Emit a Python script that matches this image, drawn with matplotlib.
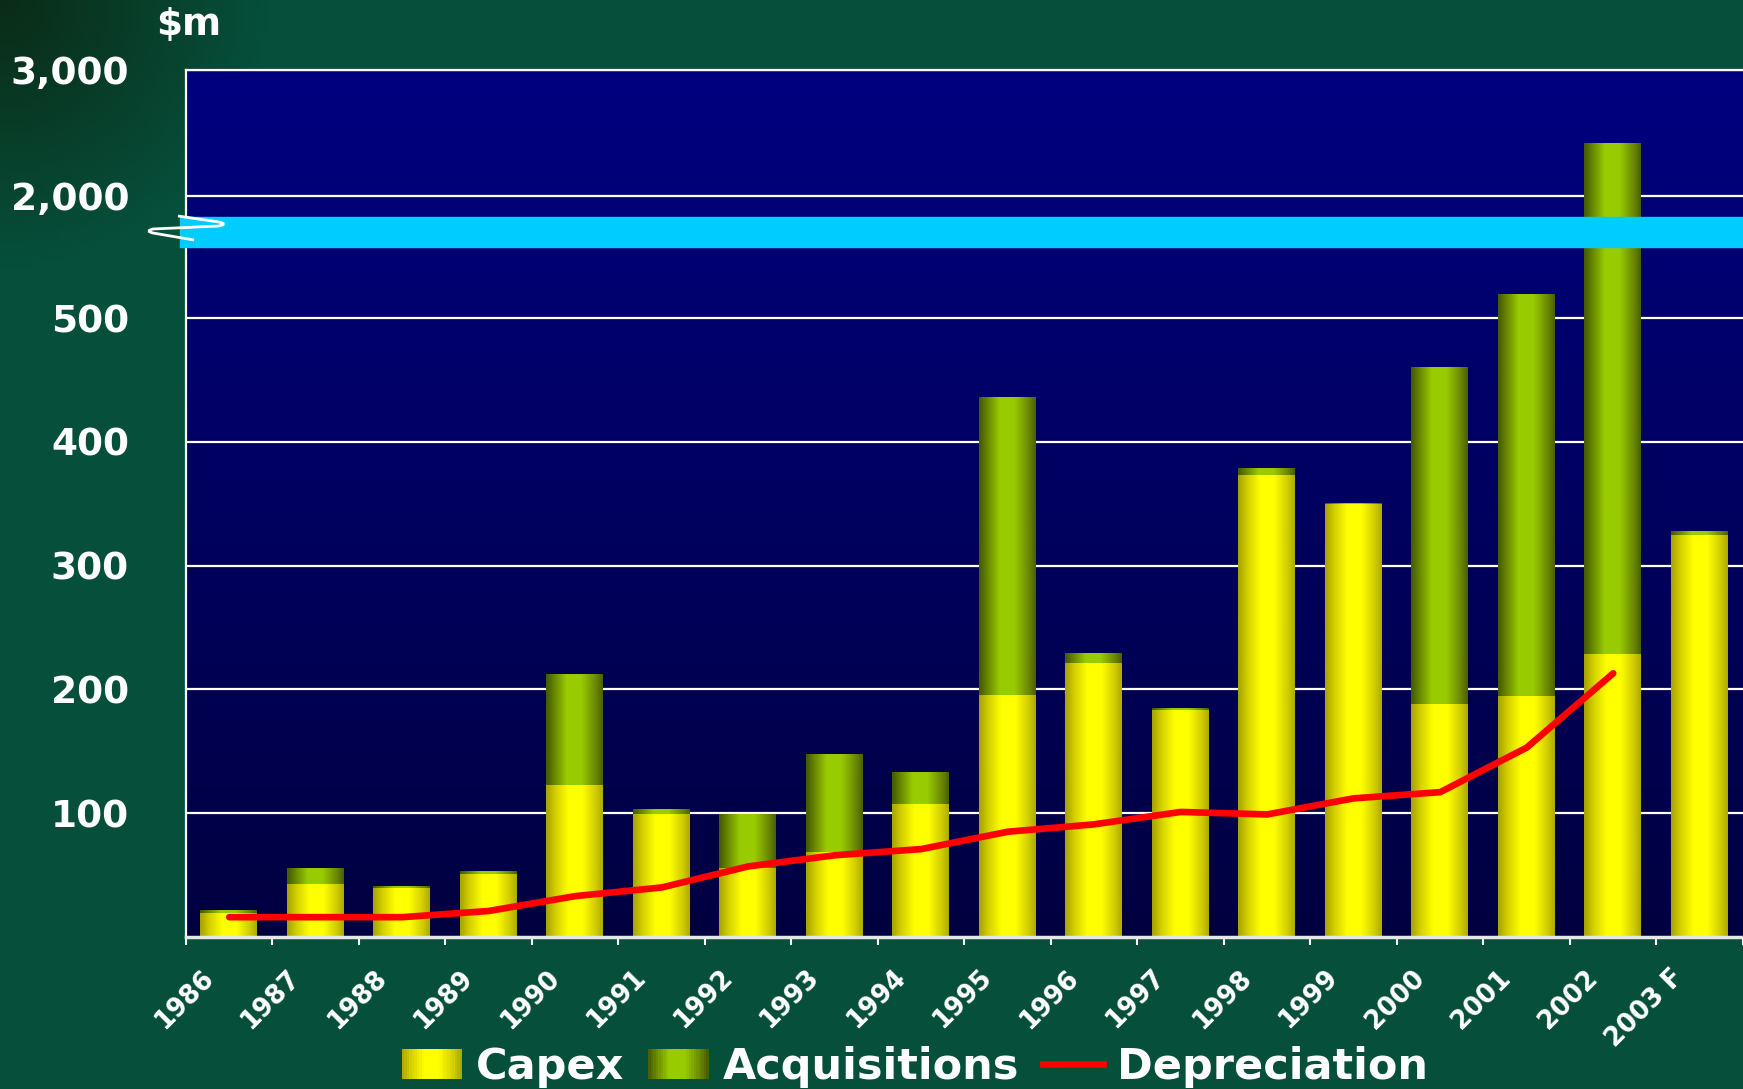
import numpy as np
import matplotlib
matplotlib.use('Agg')
import matplotlib.pyplot as plt
import matplotlib.transforms as mtransforms
from matplotlib.colors import LinearSegmentedColormap
from matplotlib.patches import Patch, PathPatch, Rectangle
from matplotlib.lines import Line2D
from matplotlib.path import Path
from matplotlib.legend_handler import HandlerBase

plt.rcParams['font.family'] = 'DejaVu Sans'
plt.rcParams['font.weight'] = 'bold'

# data ($m)
years = ['1986', '1987', '1988', '1989', '1990', '1991', '1992', '1993', '1994',
         '1995', '1996', '1997', '1998', '1999', '2000', '2001', '2002', '2003 F']
capex = [20, 43, 40, 51, 123, 100, 56, 69, 108, 196, 222, 184, 374, 350, 189, 195, 229, 325]
acquisitions = [2, 13, 2, 3, 90, 4, 44, 79, 26, 241, 8, 1, 5, 1, 272, 325, 2196, 3]
depreciation = [16, 16, 16, 21, 33, 40, 57, 66, 71, 85, 91, 101, 99, 112, 117, 153, 213]
ytick_vals = [100, 200, 300, 400, 500, 2000, 3000]

# broken y axis: 0-557 linear, squeezed gap, then 1831-3000 compressed
LO, HI, GAP, R = 557.5, 1831.0, 24.2, 0.1015


def fwd(y):
    y = np.asarray(y, dtype=float)
    return np.where(y <= LO, y,
                    np.where(y >= HI, LO + GAP + (y - HI) * R,
                             LO + (y - LO) * GAP / (HI - LO)))


def inv(u):
    u = np.asarray(u, dtype=float)
    return np.where(u <= LO, u,
                    np.where(u >= LO + GAP, HI + (u - LO - GAP) / R,
                             LO + (u - LO) * (HI - LO) / GAP))


yellow = LinearSegmentedColormap.from_list('yel', [
    (0.0, '#a9a500'), (0.15, '#d4d000'), (0.38, '#ffff00'),
    (0.62, '#ffff00'), (0.85, '#d2ce00'), (1.0, '#a8a400')])
green = LinearSegmentedColormap.from_list('grn', [
    (0.0, '#465c00'), (0.15, '#6c8c00'), (0.35, '#99cc00'),
    (0.6, '#99cc00'), (0.85, '#6c8a00'), (1.0, '#465a00')])

fig = plt.figure(figsize=(17.43, 10.89), dpi=100)
fig.patch.set_facecolor('#06503c')

# figure background with darker top-left corner
bg = fig.add_axes([0, 0, 1, 1], zorder=-5)
bg.axis('off')
yy, xx = np.mgrid[0:1:200j, 0:1.6:320j]
dist = np.sqrt(xx ** 2 + yy ** 2)
shade = np.clip(dist / 0.25, 0, 1)
c0 = np.array([0.04, 0.17, 0.09])
c1 = np.array([0.024, 0.314, 0.235])
bgimg = c0 + (c1 - c0) * shade[..., None]
bg.imshow(bgimg, extent=(0, 1, 0, 1), aspect='auto', origin='upper')

ax = fig.add_axes([0.1067, 0.1396, 0.8933, 0.7961])
ax.set_yscale('function', functions=(fwd, inv))

# plot area gradient
navy = LinearSegmentedColormap.from_list('navy', ['#000040', '#000080'])
ax.imshow(np.linspace(0, 1, 256)[::-1, None], extent=(0, 1, 0, 1), transform=ax.transAxes,
          cmap=navy, aspect='auto', zorder=0)

x = np.arange(len(years))
bars_c = ax.bar(x, capex, width=0.67, facecolor='none', linewidth=0, zorder=2)
bars_a = ax.bar(x, acquisitions, bottom=capex, width=0.67, facecolor='none', linewidth=0, zorder=2)

# cylinder shading: green clipped to whole stack, yellow on top clipped to capex part
grad = np.linspace(0, 1, 64)[None, :]
for b in bars_a:
    full = Rectangle((b.get_x(), 0), b.get_width(), b.get_y() + b.get_height(),
                     transform=ax.transData, facecolor='none', linewidth=0)
    im = ax.imshow(grad, extent=(b.get_x(), b.get_x() + b.get_width(), 0, 1),
                   transform=ax.get_xaxis_transform(), cmap=green, aspect='auto',
                   interpolation='bilinear', zorder=2.1)
    im.set_clip_path(full)
for b in bars_c:
    im = ax.imshow(grad, extent=(b.get_x(), b.get_x() + b.get_width(), 0, 1),
                   transform=ax.get_xaxis_transform(), cmap=yellow, aspect='auto',
                   interpolation='bilinear', zorder=2.2)
    im.set_clip_path(b)

ax.plot(x[:len(depreciation)], depreciation, color='#ff0000', lw=4.8,
        solid_capstyle='round', zorder=4)

ax.axhspan(LO, HI, xmin=-0.004, xmax=1, color='#00ccff', zorder=5, clip_on=False)

ax.set_xlim(-0.5, len(years) - 0.5)
ax.set_ylim(0, 3000)

ax.set_yticks(ytick_vals)
ax.set_yticklabels([f'{v:,}' for v in ytick_vals])
ax.yaxis.set_minor_locator(matplotlib.ticker.NullLocator())
ax.tick_params(axis='y', length=0, pad=41, labelsize=27, labelcolor='white')
ax.yaxis.grid(True, color='white', lw=1.6)
ax.set_axisbelow(True)

ax.set_xticks(x)
ax.set_xticklabels(years, rotation=45, ha='right', va='top', rotation_mode='anchor')
ax.set_xticks(np.arange(-0.5, len(years), 1), minor=True)
ax.tick_params(axis='x', which='major', length=0, pad=20, labelsize=18.5, labelcolor='white')
ax.tick_params(axis='x', which='minor', length=6, width=1.5, color='white')
offset = mtransforms.ScaledTranslation(-29 / 100, 0, fig.dpi_scale_trans)
for lbl in ax.get_xticklabels():
    lbl.set_transform(lbl.get_transform() + offset)

for side in ('left', 'top'):
    ax.spines[side].set_color('white')
    ax.spines[side].set_linewidth(1.6)
ax.spines['bottom'].set_color('#e6e6e6')
ax.spines['bottom'].set_linewidth(2.5)
ax.spines['right'].set_visible(False)

fig.text(156 / 1743, 1 - 25 / 1089, '$m', color='white', fontsize=27,
         ha='left', va='center')

# axis break squiggle
W, H = 1743, 1089
pts = [(194, 240), (153, 233), (145, 231), (153, 229), (219, 226), (228, 224), (219, 222), (178, 216)]
codes = [Path.MOVETO, Path.LINETO, Path.CURVE3, Path.CURVE3, Path.LINETO, Path.CURVE3, Path.CURVE3, Path.LINETO]
squiggle = PathPatch(Path([(px / W, 1 - py / H) for px, py in pts], codes),
                     transform=fig.transFigure, fill=False, edgecolor='white', lw=2, zorder=10)
fig.add_artist(squiggle)


class GradHandler(HandlerBase):
    def __init__(self, cmap):
        super().__init__()
        self.cmap = cmap

    def create_artists(self, legend, orig_handle, xdescent, ydescent, width, height, fontsize, trans):
        n = 24
        arts = []
        for i in range(n):
            arts.append(Rectangle((-xdescent + width * i / n, -ydescent), width / n * 1.05, height,
                                  facecolor=self.cmap((i + 0.5) / n), edgecolor='none', transform=trans))
        return arts


h_capex = Patch(color='#ffff00')
h_acq = Patch(color='#99cc00')
h_dep = Line2D([], [], color='#ff0000', lw=4.8)
fig.legend([h_capex, h_acq, h_dep], ['Capex', 'Acquisitions', 'Depreciation'],
           loc='center', bbox_to_anchor=(0.525, 0.02), ncol=3, frameon=False, fontsize=31,
           handlelength=1.4, handletextpad=0.33, columnspacing=0.55, labelcolor='white',
           handler_map={h_capex: GradHandler(yellow), h_acq: GradHandler(green)})

fig.savefig('out.png', dpi=100, facecolor=fig.get_facecolor())
